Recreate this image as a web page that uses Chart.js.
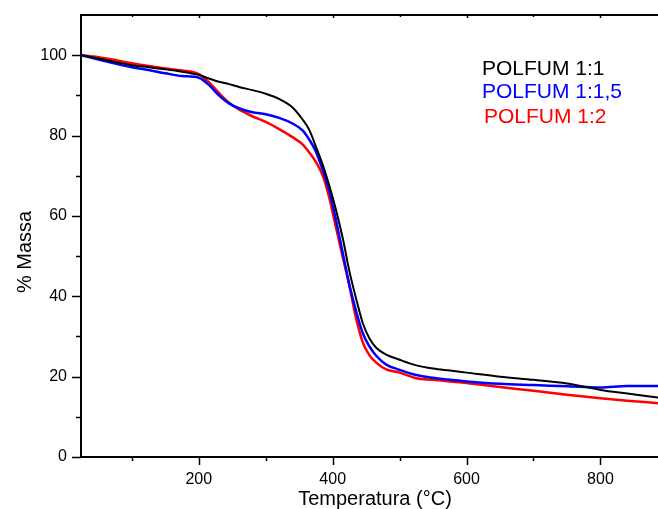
<!DOCTYPE html>
<html>
<head>
<meta charset="utf-8">
<script src="https://cdn.jsdelivr.net/npm/chart.js@4.4.1/dist/chart.umd.min.js"></script>
<style>
  html, body { margin: 0; padding: 0; background: #fff; }
  #wrap { width: 658px; height: 509px; position: relative; }
</style>
</head>
<body>
<div id="wrap"><canvas id="c" width="658" height="509"></canvas></div>
<script>
// ---- data ----
const temperatures = [24, 50, 75, 100, 125, 150, 175, 200, 215, 230, 245, 260, 280, 300, 320, 340, 355, 365, 375, 385, 395, 405, 415, 425, 435, 445, 455, 465, 480, 500, 525, 550, 575, 600, 650, 700, 750, 800, 840, 886];
const polfum11  = [100, 99.2, 98.3, 97.5, 97.0, 96.5, 95.9, 95.1, 94.2, 93.4, 92.8, 92.1, 91.3, 90.4, 89.1, 87.0, 84.0, 81.4, 77.2, 72.8, 67.5, 61.5, 54.5, 46.2, 39.4, 33.3, 29.5, 27.2, 25.5, 24.2, 22.8, 22.0, 21.5, 21.0, 20.0, 19.2, 18.3, 16.7, 15.8, 14.8];
const polfum115 = [100, 98.9, 97.9, 97.0, 96.3, 95.5, 94.8, 94.4, 92.6, 90.0, 88.0, 86.8, 85.8, 85.3, 84.4, 83.0, 81.3, 79.0, 76.0, 71.5, 66.2, 58.9, 50.8, 42.8, 36.3, 30.8, 27.5, 25.2, 23.0, 21.7, 20.4, 19.7, 19.2, 18.8, 18.2, 17.9, 17.6, 17.3, 17.7, 17.7];
const polfum12  = [100, 99.5, 98.8, 98.0, 97.3, 96.7, 96.2, 95.3, 93.3, 90.6, 88.2, 86.5, 84.8, 83.4, 81.6, 79.6, 77.8, 75.8, 73.4, 70.1, 64.5, 57.1, 49.8, 42.5, 34.5, 28.5, 25.3, 23.5, 21.8, 21.0, 19.6, 19.2, 18.8, 18.4, 17.4, 16.5, 15.5, 14.6, 14.0, 13.4];
const seriesLabels = ['POLFUM 1:1', 'POLFUM 1:1,5', 'POLFUM 1:2'];
const seriesColors = ['#000000', '#0000ff', '#ff0000'];
const xTickValues = [100, 200, 300, 400, 500, 600, 700, 800];
const xTickLabels = ['', '200', '', '400', '', '600', '', '800'];
const yTickValues = [0, 10, 20, 30, 40, 50, 60, 70, 80, 90, 100];
const yTickLabels = ['0', '', '20', '', '40', '', '60', '', '80', '', '100'];
const xTitle = 'Temperatura (°C)';
const yTitle = '% Massa';

const FONT = '"Liberation Sans", Arial, Helvetica, sans-serif';

function pts(ys) { return temperatures.map((t, i) => ({ x: t, y: ys[i] })); }

const extras = {
  id: 'extras',
  afterDraw(chart) {
    const ctx = chart.ctx;
    const xs = chart.scales.x, ys = chart.scales.y;
    const a = chart.chartArea;
    ctx.save();
    ctx.strokeStyle = '#000';
    ctx.lineWidth = 1.5;
    xTickValues.forEach((v, i) => {
      const px = Math.round(xs.getPixelForValue(v)) + 0.5;
      const len = xTickLabels[i] ? 8 : 4;
      ctx.beginPath(); ctx.moveTo(px, a.bottom); ctx.lineTo(px, a.bottom + len); ctx.stroke();
      ctx.beginPath(); ctx.moveTo(px, a.top); ctx.lineTo(px, a.top + (xTickLabels[i] ? 3 : 2)); ctx.stroke();
    });
    yTickValues.forEach((v, i) => {
      const py = Math.round(ys.getPixelForValue(v)) + 0.5;
      const len = yTickLabels[i] ? 9 : 5;
      ctx.beginPath(); ctx.moveTo(a.left, py); ctx.lineTo(a.left - len, py); ctx.stroke();
    });
    ctx.fillStyle = '#000';
    ctx.font = '20px ' + FONT;
    ctx.textAlign = 'center';
    ctx.textBaseline = 'alphabetic';
    ctx.fillText(xTitle, 375, 505);
    ctx.save();
    ctx.translate(31, 252);
    ctx.rotate(-Math.PI / 2);
    ctx.fillText(yTitle, 0, 0);
    ctx.restore();
    ctx.font = '21px ' + FONT;
    ctx.textAlign = 'left';
    const lx = [482, 482, 484], ly = [75, 97.5, 123];
    chart.data.datasets.forEach((ds, i) => {
      ctx.fillStyle = ds.borderColor;
      ctx.fillText(ds.label, lx[i], ly[i]);
    });
    ctx.restore();
  }
};

new Chart(document.getElementById('c'), {
  type: 'line',
  data: {
    datasets: [polfum11, polfum115, polfum12].map((s, i) => ({
      label: seriesLabels[i],
      data: pts(s),
      borderColor: seriesColors[i],
      backgroundColor: seriesColors[i],
      borderWidth: i === 0 ? 2 : 2.5,
      pointRadius: 0,
      fill: false,
      cubicInterpolationMode: 'monotone'
    }))
  },
  options: {
    responsive: false,
    animation: false,
    layout: { padding: 0 },
    plugins: { legend: { display: false }, tooltip: { enabled: false } },
    scales: {
      x: {
        type: 'linear', position: 'bottom', min: 24, max: 886,
        afterFit(s) { s.height = 52; s.paddingLeft = 0; s.paddingRight = 0; },
        grid: { display: false, drawTicks: false },
        border: { display: true, color: '#000', width: 2 },
        ticks: {
          stepSize: 100, includeBounds: false, padding: 13, maxRotation: 0, autoSkip: false,
          color: '#000', font: { family: FONT, size: 16 },
          callback: (v) => { const k = xTickValues.indexOf(v); return k >= 0 ? xTickLabels[k] : ''; }
        }
      },
      x2: {
        type: 'linear', position: 'top', min: 24, max: 886,
        afterFit(s) { s.height = 15; s.paddingLeft = 0; s.paddingRight = 0; },
        grid: { display: false, drawTicks: false },
        border: { display: true, color: '#000', width: 2 },
        ticks: { display: false }
      },
      y: {
        type: 'linear', position: 'left', min: 0, max: 110,
        afterFit(s) { s.width = 81; s.paddingTop = 0; s.paddingBottom = 0; },
        grid: { display: false, drawTicks: false },
        border: { display: true, color: '#000', width: 2 },
        ticks: {
          stepSize: 10, includeBounds: false, padding: 14,
          color: '#000', font: { family: FONT, size: 16 },
          callback: (v) => { const k = yTickValues.indexOf(v); return k >= 0 ? yTickLabels[k] : ''; }
        }
      }
    }
  },
  plugins: [extras]
});
</script>
</body>
</html>
